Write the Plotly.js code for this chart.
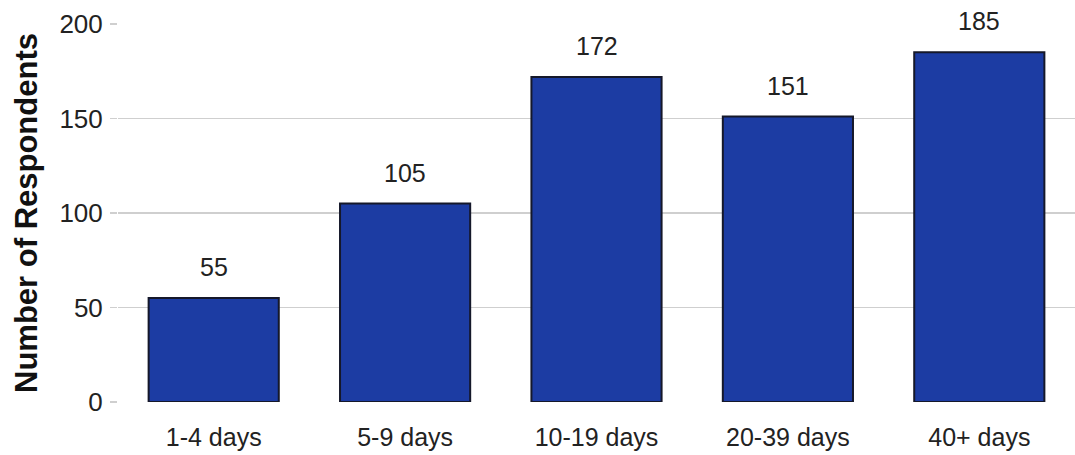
<!DOCTYPE html>
<html>
<head>
<meta charset="utf-8">
<script src="https://cdn.plot.ly/plotly-3.0.1.min.js"></script>
<style>html,body{margin:0;padding:0;background:#fff;}#chart{width:1075px;height:455px;}</style>
</head>
<body>
<div id="chart"></div>
<script>
const categories = ["1-4 days", "5-9 days", "10-19 days", "20-39 days", "40+ days"];
const respondents = [55, 105, 172, 151, 185];
const yTicks = [0, 50, 100, 150, 200];

const trace = {
  type: "bar",
  x: categories,
  y: respondents,
  marker: { color: "#1c3ca3", line: { color: "#15182a", width: 2 } },
  hoverinfo: "none"
};

const annotations = categories.map((c, i) => ({
  x: c, y: respondents[i], text: String(respondents[i]),
  showarrow: false, yshift: 31,
  font: { family: "Liberation Sans, Arial, sans-serif", size: 25, color: "#222" },
  bgcolor: "#fff"
}));

const layout = {
  width: 1075, height: 455,
  margin: { l: 118, r: 0, t: 24, b: 53 },
  paper_bgcolor: "#fff", plot_bgcolor: "#fff",
  bargap: 0.32,
  showlegend: false,
  font: { family: "Liberation Sans, Arial, sans-serif", size: 25, color: "#222" },
  xaxis: {
    type: "category", showgrid: false, showline: false, zeroline: false,
    ticks: "", ticklabelstandoff: 18, tickfont: { size: 25, color: "#222" }
  },
  yaxis: {
    range: [0, 200], tickvals: yTicks, ticktext: yTicks.map(String),
    showgrid: true, gridcolor: "#cfcfcf", gridwidth: 1.2,
    zeroline: false, showline: false,
    ticks: "outside", ticklen: 7, tickcolor: "#cfcfcf", tickwidth: 1.2,
    ticklabelstandoff: 2,
    tickfont: { size: 26, color: "#222" },
    title: { text: "Number of Respondents", font: { size: 31, color: "#111", weight: "bold" }, standoff: 12 }
  },
  annotations: annotations
};

Plotly.newPlot("chart", [trace], layout, { staticPlot: true, displayModeBar: false });
</script>
</body>
</html>
